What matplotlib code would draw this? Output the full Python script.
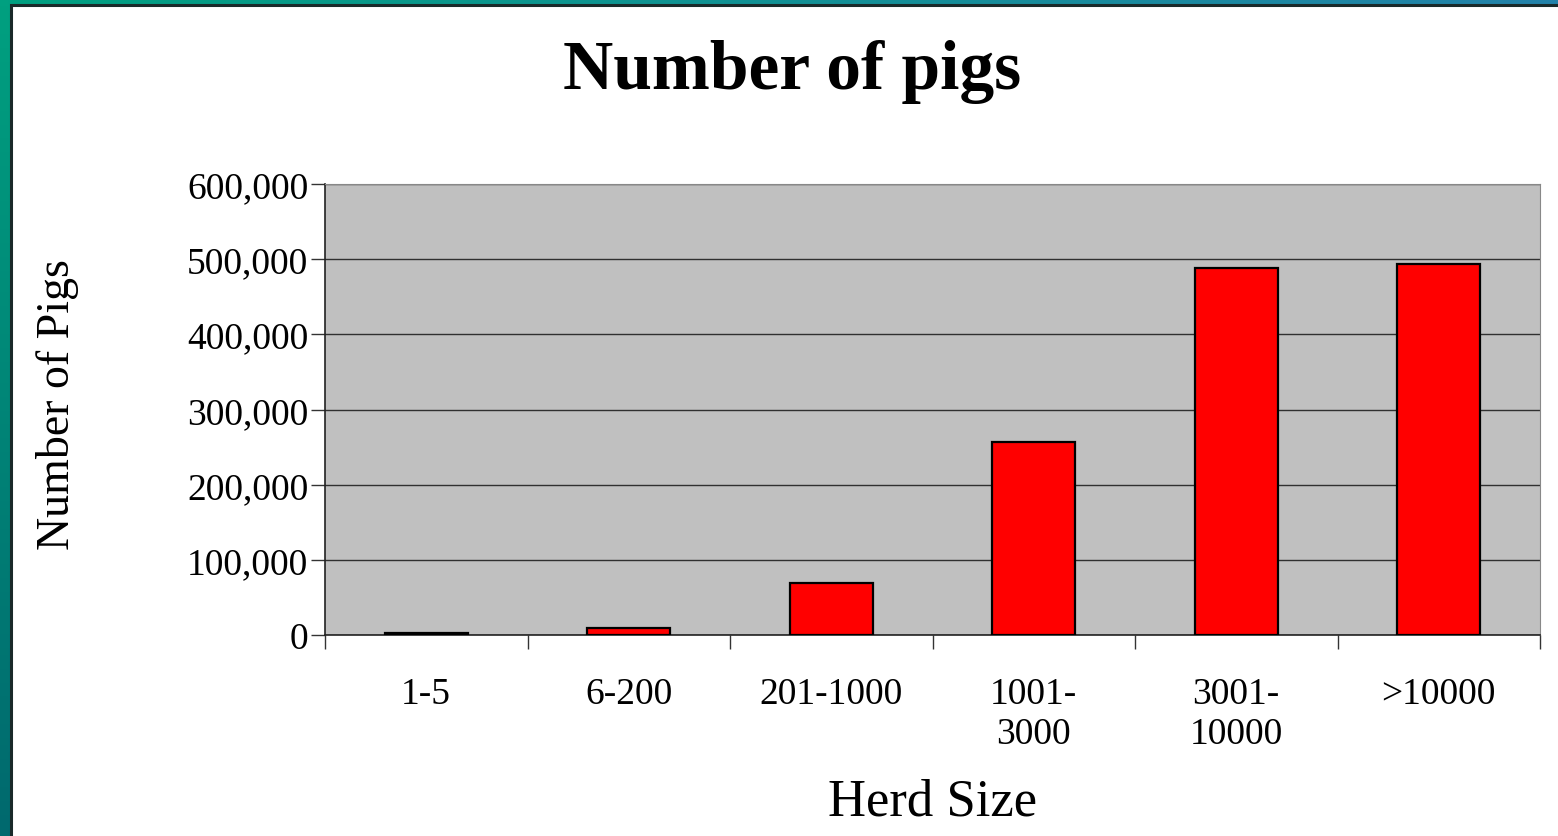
import numpy as np
import matplotlib
matplotlib.use("Agg")
import matplotlib.pyplot as plt
from matplotlib.patches import Rectangle

plt.rcParams['font.family'] = ['Liberation Serif', 'DejaVu Serif']

# data
herd_sizes = ["1-5", "6-200", "201-1000", "1001-\n3000", "3001-\n10000", ">10000"]
pigs = [2000, 9000, 69000, 257000, 488000, 493000]
y_ticks = [0, 100000, 200000, 300000, 400000, 500000, 600000]

W, H = 1558, 837
fig = plt.figure(figsize=(W / 100, H / 100), dpi=100)

# slide frame: teal gradient on the left and top edge
bg = fig.add_axes([0, 0, 1, 1])
bg.set_axis_off()
u = np.linspace(0, 1, 200)[None, :, None]
v = np.linspace(0, 1, 120)[:, None, None]
tl = np.array([0, 160, 128]) / 255
tr = np.array([35, 130, 170]) / 255
bl = np.array([0, 105, 110]) / 255
grad = tl + (tr - tl) * u + (bl - tl) * v
bg.imshow(np.clip(grad, 0, 1), aspect='auto', extent=[0, 1, 0, 1], origin='upper')
bg.set_xlim(0, 1)
bg.set_ylim(0, 1)
lx, ty = 11 / W, 1 - 6 / H
bg.add_patch(Rectangle((lx, 0), 1 - lx, ty, facecolor='white', edgecolor='none'))
bg.plot([lx, lx, 1], [0, ty, ty], color='#1a2a2a', lw=2.2, solid_joinstyle='miter')

# plot area
x0, x1, ytop, ybot = 325, 1540, 185, 636
ax = fig.add_axes([x0 / W, 1 - ybot / H, (x1 - x0) / W, (ybot - ytop) / H])
ax.set_facecolor('#c0c0c0')

x = np.arange(len(herd_sizes))
ax.bar(x, pigs, width=0.41, color='#ff0000', edgecolor='black', linewidth=1.6, zorder=3)

ax.set_xlim(-0.5, len(herd_sizes) - 0.5)
ax.set_ylim(0, 600000)
ax.set_yticks(y_ticks)
ax.set_yticklabels([f"{t:,}" for t in y_ticks], fontsize=27)
ax.yaxis.grid(True, color='#303030', linewidth=1.0, zorder=1)

ax.set_xticks(x)
ax.set_xticklabels(herd_sizes, fontsize=27, linespacing=1.2, va='top')
ax.tick_params(axis='x', length=0, pad=30)
ax.set_xticks(np.arange(len(herd_sizes) + 1) - 0.5, minor=True)
ax.tick_params(axis='x', which='minor', length=10, width=1, color='#333333', direction='out')
ax.tick_params(axis='y', length=10, width=1, color='#333333', direction='out', pad=2)

for s in ['top', 'right']:
    ax.spines[s].set_color('#888888')
    ax.spines[s].set_linewidth(0.8)
for s in ['left', 'bottom']:
    ax.spines[s].set_color('#222222')
    ax.spines[s].set_linewidth(1.2)

fig.text(792 / W, 1 - 72 / H, "Number of pigs", fontsize=50, fontweight='bold',
         ha='center', va='center')
fig.text(933 / W, 1 - 803 / H, "Herd Size", fontsize=38, ha='center', va='center')
fig.text(58 / W, 1 - 405 / H, "Number of Pigs", fontsize=33, rotation=90,
         ha='center', va='center')

fig.savefig("out.png", dpi=100)
